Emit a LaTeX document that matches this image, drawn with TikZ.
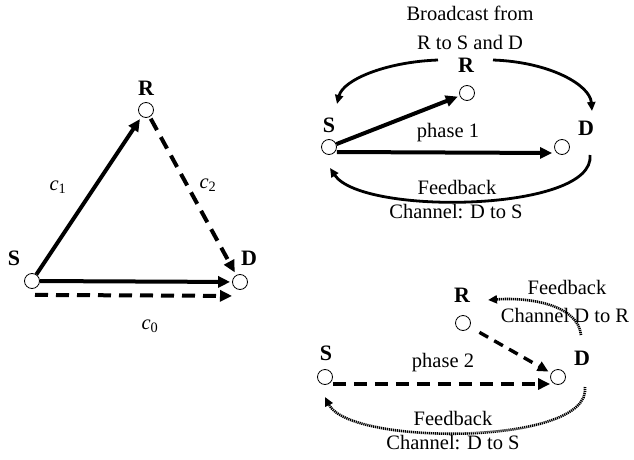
\documentclass[tikz,border=0pt]{standalone}
\usepackage{fontspec}
\setmainfont{Liberation Serif}
\usetikzlibrary{arrows.meta}

\begin{document}
\begin{tikzpicture}[
  x=1pt, y=-1pt,
  line cap=butt, line join=miter,
  every node/.style={inner sep=0pt, font=\fontsize{20.5pt}{21pt}\selectfont},
  term/.style={circle, draw, line width=0.8pt, minimum size=15pt, fill=white},
  lbl/.style={font=\fontsize{22pt}{22pt}\selectfont\bfseries},
  thickarr/.style={line width=4pt, -{Triangle[length=12pt,width=11pt]}},
  midarr/.style={line width=3.4pt, -{Triangle[length=11pt,width=10pt]}},
  arcarr/.style={line width=2.8pt, -{Triangle[length=9pt,width=8pt]}},
  dotarr/.style={line width=2.6pt, dash pattern=on 1.2pt off 0.8pt, -{Triangle[length=9pt,width=8pt]}},
  dashline/.style={dash pattern=on 13pt off 8pt}
]
  \useasboundingbox (0,0) rectangle (634,460);
  % ---- left: the relay triangle ----
  \node[term] (S0) at ( 32,281) {};
  \node[term] (R0) at (146,110) {};
  \node[term] (D0) at (240,282) {};
  \node[lbl] (S0lbl) at ( 14,258) {S};
  \node[lbl] (R0lbl) at (146, 88) {R};
  \node[lbl] (D0lbl) at (249,258) {D};
  \draw[thickarr, shorten >=3pt] (S0) -- (R0);
  \draw[thickarr, dashline, shorten <=2pt, shorten >=3pt] (R0) -- (D0);
  \draw[thickarr, shorten >=2pt] (S0) -- (D0);
  \draw[thickarr, dashline] ([xshift=3pt,yshift=-6pt]S0.south) -- ([xshift=-8pt,yshift=-6pt]D0.south);
  \node (c1) at ( 58,187) {\itshape c\textsubscript{\upshape 1}};
  \node (c2) at (208,185) {\itshape c\textsubscript{\upshape 2}};
  \node (c0) at (150,326) {\itshape c\textsubscript{\upshape 0}};

  % ---- top right: phase 1 ----
  \node[term] (S1) at (329,147) {};
  \node[term] (R1) at (467, 93) {};
  \node[term] (D1) at (562,147) {};
  \node[lbl] (S1lbl) at (329,125) {S};
  \node[lbl] (R1lbl) at (466, 65) {R};
  \node[lbl] (D1lbl) at (586,128) {D};
  \node (bcast1) at (470,13) {Broadcast from};
  \node (bcast2) at (470,42) {R to S and D};
  \node (ph1) at (448,133) {phase 1};
  \draw[thickarr, shorten >=2pt] (S1) -- (R1);
  \draw[thickarr, shorten >=2pt] ([yshift=-5pt]S1.east) -- ([yshift=-6pt]D1.west);
  \coordinate (bcL) at (438,60);
  \coordinate (bcR) at (493,60);
  \coordinate (bcS) at (337,104);
  \coordinate (bcD) at (592,111);
  \draw[arcarr] (bcL) .. controls (385,62) and (343,80) .. (bcS);
  \draw[arcarr] (bcR) .. controls (550,62) and (590,85) .. (bcD);
  \coordinate (fb1D) at (590,155);
  \coordinate (fb1S) at (330,168);
  \draw[arcarr] (fb1D) .. controls (596,212) and (362,216) .. (fb1S);
  \node (fb1a) at (457,187) {Feedback};
  \node (fb1b) at (456,212) {Channel: D to S};

  % ---- bottom right: phase 2 ----
  \node[term] (S2) at (325,377) {};
  \node[term] (R2) at (463,323) {};
  \node[term] (D2) at (558,377) {};
  \node[lbl] (S2lbl) at (326,353) {S};
  \node[lbl] (R2lbl) at (462,295) {R};
  \node[lbl] (D2lbl) at (582,358) {D};
  \node (ph2) at (443,363) {phase 2};
  \node (fb2a) at (567,287) {Feedback};
  \node (fb2b) at (565,315) {Channel D to R};
  \draw[midarr, dash pattern=on 10pt off 7pt, shorten <=11pt, shorten >=3pt] (R2) -- (D2);
  \draw[thickarr, dashline] ([yshift=-7pt]S2.east) -- ([yshift=-7pt]D2.west);
  \coordinate (fb2D) at (581,335);
  \coordinate (fb2R) at (488,300);
  \draw[dotarr] (fb2D) .. controls (578,305) and (530,297) .. (fb2R);
  \coordinate (fb3D) at (585,387);
  \coordinate (fb3S) at (325,397);
  \draw[dotarr] (fb3D) .. controls (592,446) and (350,446) .. (fb3S);
  \node (fb3a) at (453,418) {Feedback};
  \node (fb3b) at (453,443) {Channel: D to S};
\end{tikzpicture}
\end{document}
